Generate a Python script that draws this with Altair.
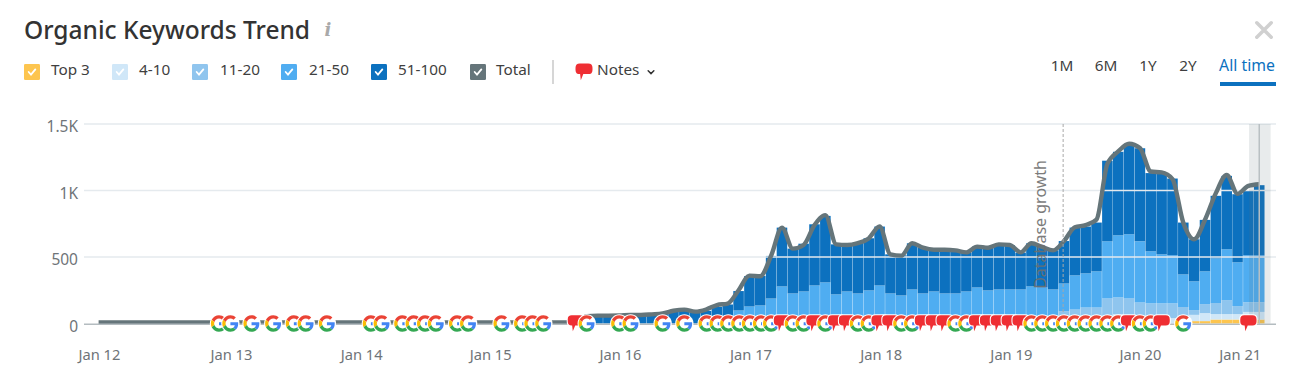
import json
import altair as alt
import pandas as pd

FONT = "Noto Sans"

# ---------- data ----------
first_bar_month = 45
series_names = ["Top 3", "4-10", "11-20", "21-50", "51-100"]
series_colors = ["#fdc54f", "#d0e7f8", "#8fc5ee", "#4fadf1", "#0c71bf"]

top_100 = [55,58,58,60,63,63,68,75,95,102,88,95,125,143,244,357,357,508,721,563,600,746,809,595,595,608,641,729,520,513,603,570,558,558,545,533,578,570,595,588,533,603,575,550,620,721,729,759,1224,1291,1349,1317,1131,1128,1090,759,633,779,960,1110,972,1000,1040]
top_50 = [0,0,0,0,0,0,0,0,0,0,0,0,0,0,98,128,136,188,279,226,241,286,309,219,241,226,249,286,226,211,256,226,241,226,226,241,271,249,256,256,256,279,271,256,301,362,377,392,618,663,671,618,543,520,513,369,317,392,490,558,460,513,513]
top_20 = [0,0,0,0,0,0,0,0,0,0,0,0,0,0,15,20,20,25,30,30,30,30,30,30,30,30,30,30,30,30,30,30,30,30,30,30,30,30,30,30,30,30,30,30,93,105,120,120,188,196,188,158,151,151,151,124,101,146,154,176,131,160,160]
top_10 = [0,0,0,0,0,0,0,0,0,0,0,0,0,0,0,5,5,5,8,8,8,8,8,8,8,8,8,8,8,8,8,8,8,8,8,8,10,10,10,10,10,10,10,10,20,20,20,20,45,70,55,45,40,40,40,40,65,78,71,71,71,87,87]
top_3 = [0]*55 + [0,18,18,30,30,30,30,30]

total_months_early = list(range(0, 45))
total_early = [7]*45
total_late = [55,59,59,60,64,64,69,76,96,104,89,105,139,150,250,360,355,510,721,563,590,740,815,595,590,605,640,729,520,510,603,570,555,555,550,535,578,570,595,590,535,603,575,550,620,724,740,782,1200,1294,1352,1320,1143,1136,1086,758,633,780,980,1117,975,1035,1047]

google_months = [11.1,12.15,14.1,16.1,18,19.1,21.05,25.1,26.1,28,29.05,30.1,31.1,33.05,34.07,37.15,39.05,40,41,45,48,49.05,52,54,56.06,57.07,58.05,59.07,60.05,61.07,62,64,65,67,70,71,74,75,79,80,86,87,88,89,90,91,92,93,94,96,97,100]
note_months = [44,63,66,68,69,72,73,76,77,78,81,82,83,84,85,95,98,106]

tick_months = [0.03,12.2,24.2,36.1,48.07,60.1,72.1,84.1,96,105.2]
tick_labels = ["Jan 12","Jan 13","Jan 14","Jan 15","Jan 16","Jan 17","Jan 18","Jan 19","Jan 20","Jan 21"]
y_ticks = [0,500,1000,1500]
y_labels = ["0","500","1K","1.5K"]
grid_values = [500,1000,1500]
db_month = 88.92
hover_start, hover_end, hover_month = 106.06, 108.05, 107

# ---------- glyphs ----------
G_RED = "M0 -14.5c3.54 0 6.71 1.22 9.21 3.6l6.85-6.85C11.9 -21.62 6.47 -24 0 -24 -9.38 -24 -17.49 -18.62 -21.44 -10.78l7.98 6.19C-11.57 -10.28 -6.26 -14.5 0 -14.5z"
G_BLUE = "M22.98 0.55c0-1.57-.15-3.09-.38-4.55H0v9.02h12.94c-.58 2.96-2.26 5.48-4.78 7.18l7.73 6c4.51-4.18 7.09-10.36 7.09-17.65z"
G_YELLOW = "M-13.47 4.59c-.5-1.45-.79-2.99-.79-4.59s.27-3.14.76-4.59l-7.98-6.19C-23.08 -7.54 -24 -3.88 -24 0c0 3.88.92 7.54 2.56 10.78l7.97-6.19z"
G_GREEN = "M0 24c6.48 0 11.93-2.13 15.89-5.81l-7.73-6c-2.15 1.45-4.92 2.3-8.16 2.3-6.26 0-11.57-4.22-13.47-9.91l-7.98 6.19C-17.49 18.62 -9.38 24 0 24z"
G_HALO = "M-27 0a27 27 0 1 0 54 0a27 27 0 1 0 -54 0z"
NOTE = "M-12 -24L12 -24Q24 -24 24 -12L24 -6Q24 6 12 6L-2 6L-9 23L-11 6L-12 6Q-24 6 -24 -6L-24 -12Q-24 -24 -12 -24z"
NOTE_HALO = "M-13 -27L13 -27Q27 -27 27 -13L27 -5Q27 9 13 9L0 9L-10 28L-14 9Q-27 9 -27 -5L-27 -13Q-27 -27 -13 -27z"
BOX = "M-20 -24L20 -24Q24 -24 24 -20L24 20Q24 24 20 24L-20 24Q-24 24 -24 20L-24 -20Q-24 -24 -20 -24z"
CHECK = "M-10 0L-3 8L10 -8"
CHEVRON = "M-9 -4L0 5L9 -4"
CROSS = "M-24 -24L24 24M24 -24L-24 24"

parts = ["ghalo","gred","gblue","gyellow","ggreen","nhalo","note"]
part_paths = [G_HALO,G_RED,G_BLUE,G_YELLOW,G_GREEN,NOTE_HALO,NOTE]
part_colors = ["#ffffff","#ea4335","#4285f4","#fbbc05","#34a853","#ffffff","#ef2e33"]
ICON_SIZE = 0.46

# ---------- scales ----------
x_scale = alt.Scale(domain=[-1.346, 108.545], nice=False, zero=False, padding=0)
y_scale = alt.Scale(domain=[0, 1500], nice=False)
X = lambda f: alt.X(f, scale=x_scale, title=None)
Y = lambda f: alt.Y(f, scale=y_scale, title=None)

# ---------- tables ----------
tops = [top_3, top_10, top_20, top_50, top_100]
rows = []
for i in range(len(top_100)):
    lower = 0
    for k, name in enumerate(series_names):
        value = max(tops[k][i] - lower, 0)
        lower = max(lower, tops[k][i])
        rows.append({"month": first_bar_month + i, "series": name, "rank": k, "value": value})
bars_df = pd.DataFrame(rows)

total_df = pd.DataFrame({
    "month": total_months_early + list(range(first_bar_month, first_bar_month + len(total_late))),
    "total": total_early + total_late,
})

icon_rows = []
events = sorted([(m, "g") for m in google_months] + [(m, "n") for m in note_months])
for m, kind in events:
    for p in (["ghalo","gred","gblue","gyellow","ggreen"] if kind == "g" else ["nhalo","note"]):
        icon_rows.append({"month": m, "level": 0, "part": p})
icons_df = pd.DataFrame(icon_rows)

# ---------- layers ----------
x_label_map = json.dumps({str(v): l for v, l in zip(tick_months, tick_labels)})
y_label_map = json.dumps({str(v): l for v, l in zip(y_ticks, y_labels)})

axes = alt.Chart(total_df).mark_point(opacity=0).encode(
    x=alt.X("month:Q", scale=x_scale, title=None, axis=alt.Axis(
        values=tick_months, labelExpr=f"{x_label_map}[datum.value]", domain=False, ticks=False, grid=False,
        labelPadding=24, labelFontSize=14.7, labelColor="#6f7478", labelFont=FONT, labelFlush=False, labelOverlap=False)),
    y=alt.Y("total:Q", scale=y_scale, title=None, axis=alt.Axis(
        values=y_ticks, labelExpr=f"{y_label_map}[datum.value]", domain=False, ticks=False, grid=False,
        labelPadding=6.5, labelFontSize=15.5, labelColor="#6f7478", labelFont=FONT, labelFlush=False, labelOffset=2.5)),
)

bars = alt.Chart(bars_df).mark_bar(size=10.55).encode(
    x=X("month:Q"),
    y=alt.Y("value:Q", scale=y_scale, title=None, stack="zero"),
    color=alt.Color("series:N", scale=alt.Scale(domain=series_names, range=series_colors), legend=None),
    order=alt.Order("rank:Q"),
)

grid = alt.Chart(pd.DataFrame({"v": grid_values})).mark_rule(color="#e5eaee", strokeWidth=1.5).encode(y=Y("v:Q"))

line = alt.Chart(total_df).mark_line(color="#65757a", strokeWidth=4.4, interpolate="monotone").encode(
    x=X("month:Q"), y=Y("total:Q"))

axis_line = alt.Chart(pd.DataFrame({"v": [0]})).mark_rule(color="#b4bcc0", strokeWidth=1.5).encode(
    y=Y("v:Q"), yOffset=alt.value(0.8))

band = alt.Chart(pd.DataFrame({"a": [hover_start], "b": [hover_end], "top": [1500], "base": [0]})).mark_rect(
    color="#5f7379", opacity=0.14).encode(x=X("a:Q"), x2="b:Q", y=Y("top:Q"), y2="base:Q")
hover = alt.Chart(pd.DataFrame({"m": [hover_month], "top": [1500], "base": [0]})).mark_rule(
    color="#b9c0c3", strokeWidth=1.5).encode(x=X("m:Q"), y=Y("top:Q"), y2="base:Q")

db_rule = alt.Chart(pd.DataFrame({"m": [db_month], "top": [1500], "base": [25]})).mark_rule(
    color="#a8a8a8", strokeWidth=1, strokeDash=[3, 2]).encode(x=X("m:Q"), y=Y("top:Q"), y2="base:Q")
db_text = alt.Chart(pd.DataFrame({"m": [86.9], "v": [745], "t": ["Database growth"]})).mark_text(
    angle=270, fontSize=16, font=FONT, color="#6e6e6e", opacity=0.9, align="center", baseline="middle").encode(
    x=X("m:Q"), y=Y("v:Q"), text="t:N")

icons = alt.Chart(icons_df).mark_point(filled=True, size=ICON_SIZE, opacity=1, strokeWidth=0).encode(
    x=X("month:Q"), y=Y("level:Q"),
    shape=alt.Shape("part:N", scale=alt.Scale(domain=parts, range=part_paths), legend=None),
    fill=alt.Fill("part:N", scale=alt.Scale(domain=parts, range=part_colors), legend=None),
)

# ---------- header drawn around the plot (page pixels) ----------
ORIGIN_X, ORIGIN_Y = 84, 124
one = pd.DataFrame({"a": [0]})

def px(x):
    return alt.value(x - ORIGIN_X)

def py(y):
    return alt.value(y - ORIGIN_Y)

def label(text, x, y, size=15.3, color="#3a3a3a", align="left", weight=400, font=FONT, style="normal"):
    return alt.Chart(one).mark_text(fontSize=size, color=color, align=align, baseline="middle",
                                    fontWeight=weight, font=font, fontStyle=style).encode(
        x=px(x), y=py(y), text=alt.value(text))

def glyph(path, x, y, size, fill=None, stroke=None, width=2):
    kw = dict(shape=path, size=size, opacity=1)
    if fill:
        kw.update(filled=True, fill=fill, strokeWidth=0)
    else:
        kw.update(filled=False, fill="transparent", stroke=stroke, strokeWidth=width, strokeCap="round")
    return alt.Chart(one).mark_point(**kw).encode(x=px(x), y=py(y))

def hline(x1, x2, y, color, width):
    return alt.Chart(one).mark_rule(color=color, strokeWidth=width).encode(x=px(x1), x2=px(x2), y=py(y))

def vline(x, y1, y2, color, width):
    return alt.Chart(one).mark_rule(color=color, strokeWidth=width).encode(x=px(x), y=py(y1), y2=py(y2))

header = [
    label("Organic Keywords Trend", 24, 31.5, size=24.5, color="#333333", weight=500),
    label("i", 328, 31, size=18, color="#a9a9a9", weight=700, font="DejaVu Serif", style="italic", align="center"),
]
legend_items = [("Top 3", "#fdc54f", 24, 51), ("4-10", "#d0e7f8", 112, 139), ("11-20", "#90c5ee", 192, 220),
                ("21-50", "#50adf1", 281, 309), ("51-100", "#0c71bf", 371, 398), ("Total", "#65757a", 470, 496)]
for name, colour, bx, tx in legend_items:
    header.append(glyph(BOX, bx + 8, 72, 0.444, fill=colour))
    header.append(glyph(CHECK, bx + 8, 72, 0.444, stroke="#ffffff", width=1.8))
    header.append(label(name, tx, 70, color="#3f3f3f"))
header += [
    vline(553, 60, 84, "#c9c9c9", 1.5),
    glyph(NOTE, 584, 72, 0.5, fill="#ef2e33"),
    label("Notes", 597, 70, color="#3f3f3f"),
    glyph(CHEVRON, 651, 72, 0.4, stroke="#333333", width=1.5),
    label("1M", 1062, 65.5, align="center", color="#3f3f3f"),
    label("6M", 1106, 65.5, align="center", color="#3f3f3f"),
    label("1Y", 1148, 65.5, align="center", color="#3f3f3f"),
    label("2Y", 1188, 65.5, align="center", color="#3f3f3f"),
    label("All time", 1247, 65.5, align="center", color="#0c71bf", size=15.8),
    hline(1220, 1276, 84, "#0c71bf", 4),
    glyph(CROSS, 1264, 30, 0.36, stroke="#d0d0d0", width=3.5),
]

chart = alt.layer(
    axes, bars, grid, line, band, hover, axis_line, db_rule, db_text, icons, *header
).resolve_scale(fill="independent").properties(
    width=1192, height=199.5,
    padding={"left": 76, "top": 116, "right": 16, "bottom": 60},
    autosize=alt.AutoSizeParams(type="none"),
    background="#ffffff",
).configure_view(stroke=None)

chart.save("out.html", embed_options={"renderer": "svg", "actions": False})
